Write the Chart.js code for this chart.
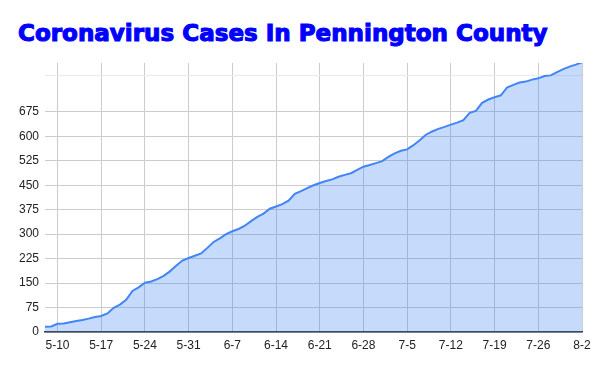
<!DOCTYPE html>
<html>
<head>
<meta charset="utf-8">
<script src="https://cdn.jsdelivr.net/npm/chart.js@4"></script>
<style>
  html, body { margin: 0; padding: 0; background: #fff; }
  #wrap { position: relative; width: 600px; height: 371px; }
  #title {
    position: absolute; left: 18px; top: 18px;
    font-family: "DejaVu Sans", sans-serif; font-weight: bold;
    font-size: 23px; line-height: 30px; color: #0000ff;
    -webkit-text-stroke: 1.1px #0000ff; white-space: nowrap;
  }
  canvas { position: absolute; left: 0; top: 0; }
</style>
</head>
<body>
<div id="wrap">
  <div id="title">Coronavirus Cases In Pennington County</div>
  <canvas id="casesChart" width="600" height="371"></canvas>
</div>
<script>
// 每日日期（5月8日到8月2日）
const dates = [
  "5-8", "5-9", "5-10", "5-11", "5-12", "5-13", "5-14", "5-15", "5-16", "5-17",
  "5-18", "5-19", "5-20", "5-21", "5-22", "5-23", "5-24", "5-25", "5-26", "5-27",
  "5-28", "5-29", "5-30", "5-31",
  "6-1", "6-2", "6-3", "6-4", "6-5", "6-6", "6-7", "6-8", "6-9", "6-10",
  "6-11", "6-12", "6-13", "6-14", "6-15", "6-16", "6-17", "6-18", "6-19", "6-20",
  "6-21", "6-22", "6-23", "6-24", "6-25", "6-26", "6-27", "6-28", "6-29", "6-30",
  "7-1", "7-2", "7-3", "7-4", "7-5", "7-6", "7-7", "7-8", "7-9", "7-10",
  "7-11", "7-12", "7-13", "7-14", "7-15", "7-16", "7-17", "7-18", "7-19", "7-20",
  "7-21", "7-22", "7-23", "7-24", "7-25", "7-26", "7-27", "7-28", "7-29", "7-30",
  "7-31", "8-1", "8-2",
];

// 累计病例数
const cases = [
  16, 17, 25, 26, 30, 34, 37, 41, 46, 49,
  57, 74, 84, 99, 126, 137, 151, 155, 162, 172,
  186, 203, 219, 227,
  234, 241, 258, 276, 287, 300, 309, 316, 326, 340,
  353, 363, 378, 385, 392, 403, 424, 432, 441, 450,
  457, 463, 468, 476, 482, 487, 497, 507, 512, 518,
  524, 537, 548, 556, 560, 573, 588, 605, 615, 623,
  629, 636, 642, 650, 672, 678, 703, 713, 720, 726,
  750, 758, 765, 768, 774, 778, 785, 787, 797, 806,
  814, 820, 827,
];

// 坐标轴刻度
const xTickLabels = ["5-10", "5-17", "5-24", "5-31", "6-7", "6-14", "6-21", "6-28", "7-5", "7-12", "7-19", "7-26", "8-2"];
const yTickLabels = [0, 75, 150, 225, 300, 375, 450, 525, 600, 675];

const FONT = { family: "Arial, 'Liberation Sans', sans-serif", size: 12 };

// 标题宽度对齐原图
const title = document.getElementById("title");
title.style.fontSize = (23 * 530 / title.offsetWidth).toFixed(2) + "px";

const ctx = document.getElementById("casesChart").getContext("2d");
new Chart(ctx, {
  type: "line",
  data: {
    labels: dates,
    datasets: [
      {
        data: cases,
        borderColor: "#4285f4",
        backgroundColor: "rgba(66, 133, 244, 0.3)",
        borderWidth: 2,
        pointRadius: 0,
        tension: 0,
        fill: "origin",
      },
    ],
  },
  options: {
    responsive: false,
    animation: false,
    layout: { padding: { left: 0, right: 18, top: 63, bottom: 0 } },
    plugins: {
      legend: { display: false },
      tooltip: { enabled: false },
      title: { display: false },
    },
    scales: {
      x: {
        afterFit: (scale) => { scale.height = 39; },
        grid: { color: "#cccccc", drawTicks: false },
        border: { display: true, color: "#333333", width: 1.5 },
        ticks: {
          autoSkip: false,
          maxRotation: 0,
          padding: 6,
          color: "#222222",
          font: FONT,
          callback: function (value) {
            const label = this.getLabelForValue(value);
            return xTickLabels.includes(label) ? label : null;
          },
        },
      },
      y: {
        min: 0,
        max: 825,
        afterFit: (scale) => { scale.width = 45; },
        grid: {
          drawTicks: false,
          color: (c) => (c.tick.value % 75 === 0 ? "#cccccc" : "#ebebeb"),
        },
        border: { display: false },
        ticks: {
          stepSize: 37.5,
          padding: 6,
          color: "#222222",
          font: FONT,
          callback: (value) => {
            if (yTickLabels.includes(value)) return String(value);
            if (value % 75 === 0) return null;
            return "";
          },
        },
      },
    },
  },
});
</script>
</body>
</html>
